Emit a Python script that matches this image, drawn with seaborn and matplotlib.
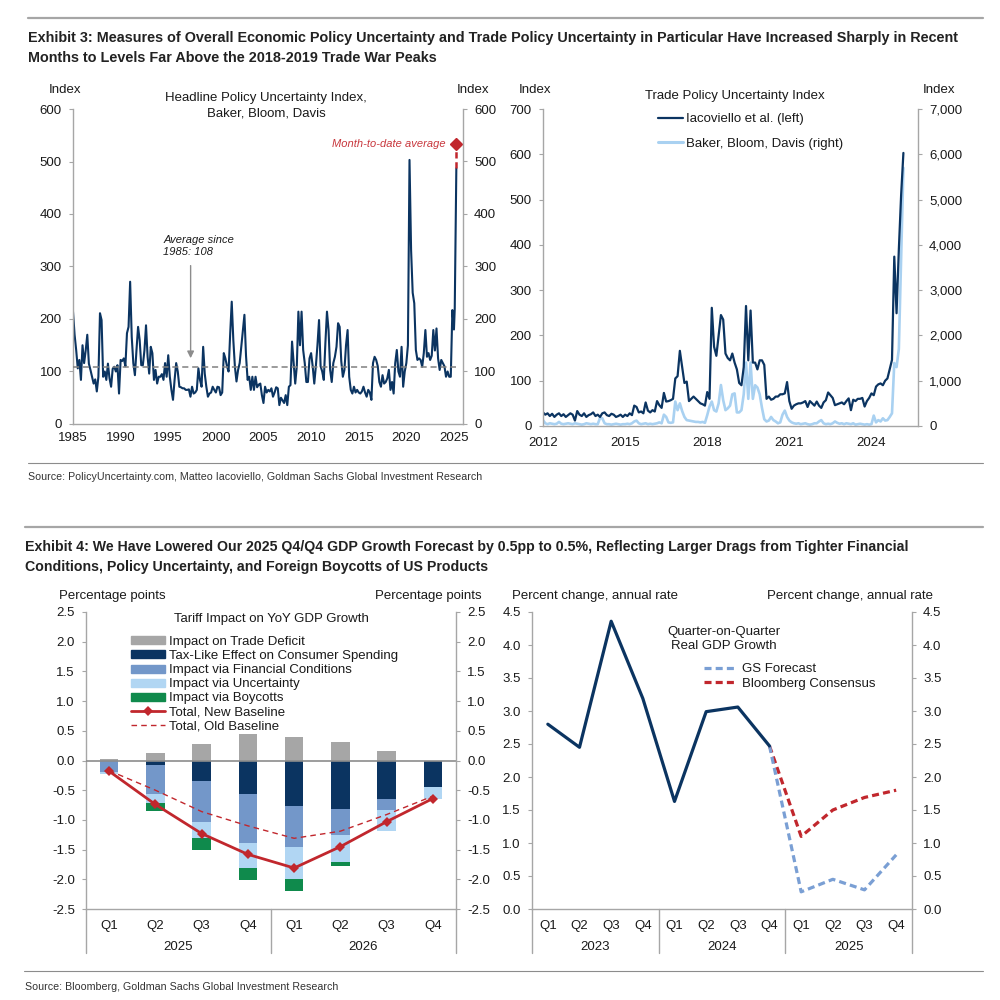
import numpy as np
import matplotlib
matplotlib.use("Agg")
import matplotlib.pyplot as plt
import seaborn as sns
from matplotlib.patches import Patch
from matplotlib.lines import Line2D
from matplotlib.ticker import FuncFormatter

# ---------------- data ----------------
# Exhibit 3 left: headline EPU index, one reading every two months (Jan, Mar, ... Nov), 1985-2024
EPU_BIMONTHLY = [
    214, 170, 141, 106, 122, 84,    # 1985
    150, 116, 140, 170, 115, 103,   # 1986
    90, 77, 85, 62, 90, 211,        # 1987
    198, 90, 100, 84, 115, 87,      # 1988
    71, 105, 109, 100, 112, 58,     # 1989
    122, 120, 125, 110, 173, 185,   # 1990
    271, 166, 116, 93, 141, 185,    # 1991
    160, 112, 112, 140, 188, 128,   # 1992
    96, 147, 135, 84, 103, 77,      # 1993
    90, 90, 95, 84, 116, 90,        # 1994
    131, 90, 65, 46, 84, 116,       # 1995
    100, 71, 70, 68, 68, 65,        # 1996
    65, 66, 52, 71, 58, 60,         # 1997
    65, 106, 84, 71, 147, 96,       # 1998
    71, 52, 58, 60, 71, 65,         # 1999
    60, 71, 70, 55, 60, 135,        # 2000
    125, 110, 100, 170, 233, 160,   # 2001
    109, 81, 103, 116, 147, 179,    # 2002
    208, 130, 84, 90, 65, 90,       # 2003
    65, 90, 70, 75, 77, 55,         # 2004
    40, 71, 60, 65, 62, 68,         # 2005
    52, 60, 70, 68, 36, 50,         # 2006
    45, 40, 55, 36, 71, 74,         # 2007
    157, 116, 77, 110, 214, 150,    # 2008
    214, 141, 116, 80, 80, 125,     # 2009
    135, 110, 77, 110, 150, 198,    # 2010
    110, 100, 84, 154, 214, 179,    # 2011
    103, 80, 116, 128, 147, 192,    # 2012
    185, 120, 90, 103, 150, 179,    # 2013
    90, 65, 58, 71, 60, 65,         # 2014
    60, 58, 62, 71, 60, 52,         # 2015
    65, 60, 46, 116, 128, 122,      # 2016
    110, 80, 71, 93, 77, 80,        # 2017
    87, 103, 65, 80, 58, 116,       # 2018
    141, 100, 90, 147, 71, 100,     # 2019
    116, 150, 503, 331, 250, 230,   # 2020
    141, 122, 125, 122, 109, 135,   # 2021
    179, 128, 135, 122, 130, 179,   # 2022
    140, 182, 125, 103, 122, 116,   # 2023
    110, 90, 100, 90, 90, 217,      # 2024
]
EPU_2025_MONTHLY = [180, 220, 350, 487]   # Jan-Apr 2025
EPU_MTD = 533
EPU_AVERAGE = 108

# Exhibit 3 right: trade policy uncertainty, monthly from Jan 2012
TPU_IACOVIELLO = [
    30, 25, 28, 22, 27, 20, 25, 28, 22, 26, 20, 24,
    28, 25, 12, 33, 25, 22, 28, 20, 24, 26, 30, 22,
    25, 20, 28, 30, 24, 22, 27, 25, 20, 22, 25, 20,
    25, 22, 28, 24, 45, 42, 30, 32, 28, 52, 34, 30,
    35, 32, 55, 46, 40, 73, 54, 55, 57, 60, 105, 110,
    166, 130, 95, 98, 55, 60, 65, 60, 55, 50, 48, 45,
    75, 60, 261, 175, 155, 200, 245, 235, 160, 150, 145, 160,
    140, 125, 95, 90, 130, 265, 145, 255, 140, 140, 125, 145,
    145, 135, 60, 65, 58, 60, 65, 65, 70, 70, 72, 97,
    55, 38, 45, 48, 50, 50, 52, 55, 42, 55, 50, 45,
    54, 45, 40, 52, 57, 74, 68, 62, 46, 48, 50, 52,
    48, 55, 61, 35, 58, 55, 60, 60, 62, 43, 55, 62,
    72, 68, 87, 92, 94, 90, 100, 105, 125, 146, 374, 249,
    390, 510, 603,
]
TPU_BBD = [
    130, 60, 40, 60, 50, 40, 50, 90, 50, 40, 50, 60,
    50, 40, 60, 50, 40, 30, 40, 60, 50, 40, 50, 40,
    40, 180, 170, 60, 40, 40, 30, 40, 50, 40, 30, 40,
    40, 50, 40, 60, 100, 120, 60, 40, 50, 60, 40, 50,
    40, 50, 60, 80, 60, 250, 200, 80, 70, 80, 540, 350,
    500, 330, 200, 130, 120, 110, 100, 90, 90, 80, 90, 70,
    240, 430, 540, 350, 320, 500, 905, 570, 350, 390, 450, 700,
    720, 300, 300, 350, 700, 1400, 600, 1400, 600, 900, 850, 700,
    400, 150, 100, 120, 200, 130, 100, 60, 80, 250, 340, 200,
    120, 80, 60, 50, 60, 40, 50, 60, 40, 30, 40, 60,
    60, 100, 130, 60, 40, 50, 40, 60, 100, 70, 50, 60,
    40, 60, 50, 40, 60, 30, 40, 50, 40, 30, 40, 30,
    40, 230, 80, 130, 100, 170, 120, 130, 200, 280, 1390, 1300,
    1700, 3700, 5700,
]

# Exhibit 4 left: tariff impact on YoY GDP growth, Q1 2025 - Q4 2026 (pp)
TARIFF_QUARTERS = ["Q1", "Q2", "Q3", "Q4", "Q1", "Q2", "Q3", "Q4"]
TARIFF_YEARS = ["2025", "2026"]
TRADE_DEFICIT = np.array([0.03, 0.12, 0.28, 0.44, 0.40, 0.31, 0.16, 0.00])
TAX_LIKE = np.array([0.00, -0.08, -0.34, -0.56, -0.76, -0.81, -0.64, -0.44])
FIN_CONDITIONS = np.array([-0.19, -0.48, -0.69, -0.83, -0.70, -0.44, -0.20, 0.00])
UNCERTAINTY = np.array([-0.03, -0.15, -0.27, -0.42, -0.53, -0.46, -0.34, -0.20])
BOYCOTTS = np.array([0.00, -0.14, -0.21, -0.21, -0.21, -0.07, 0.00, 0.00])
TOTAL_NEW = [-0.18, -0.74, -1.23, -1.58, -1.81, -1.45, -1.03, -0.64]
TOTAL_OLD = [-0.17, -0.50, -0.86, -1.10, -1.31, -1.19, -0.91, -0.60]

# Exhibit 4 right: QoQ real GDP growth, Q1 2023 - Q4 2025
GDP_QUARTERS = ["Q1", "Q2", "Q3", "Q4"] * 3
GDP_YEARS = ["2023", "2024", "2025"]
GDP_ACTUAL = [2.80, 2.45, 4.36, 3.19, 1.63, 2.99, 3.06, 2.47]          # Q1 2023 - Q4 2024
GS_FORECAST = [2.47, 0.26, 0.45, 0.29, 0.82]                            # Q4 2024 - Q4 2025
BBG_CONSENSUS = [2.47, 1.10, 1.50, 1.69, 1.80]                          # Q4 2024 - Q4 2025

# ---------------- style ----------------
NAVY = "#0b3461"
LIGHT = "#a9d1f1"
RED = "#c1272d"
AXIS = "#a6a6a6"
TEXT = "#1a1a1a"
BAR_GRAY = "#a6a6a6"
BAR_MID = "#7397c9"
BAR_LIGHT = "#b1d6f3"
BAR_GREEN = "#0f8a4c"
GS_BLUE = "#7a9fd4"

sns.set_theme(style="white")
plt.rcParams["font.family"] = ["Liberation Sans", "DejaVu Sans"]
plt.rcParams["font.size"] = 9.5
plt.rcParams["axes.unicode_minus"] = False
plt.rcParams["text.color"] = TEXT

fig = plt.figure(figsize=(10, 10), dpi=100)
renderer = fig.canvas.get_renderer()


def box(l, t, r, b):
    return [l / 1000, 1 - b / 1000, (r - l) / 1000, (b - t) / 1000]


def ftext(x, y, s, **kw):
    kw.setdefault("va", "center")
    return fig.text(x / 1000, 1 - y / 1000, s, **kw)


def fit_size(s, width_px, **kw):
    # font size that makes s span width_px pixels
    t = fig.text(0, 0, s, fontsize=10, **kw)
    w = t.get_window_extent(renderer).width
    t.remove()
    return 10 * width_px / w


def fline(y, x0, x1, lw, color):
    fig.add_artist(Line2D([x0 / 1000, x1 / 1000], [1 - y / 1000] * 2, lw=lw, color=color))


def style(ax, right=False):
    for sp in ax.spines.values():
        sp.set_color(AXIS)
        sp.set_linewidth(1.0)
    ax.spines["top"].set_visible(False)
    if right:
        ax.spines["left"].set_visible(False)
        ax.spines["bottom"].set_visible(False)
    else:
        ax.spines["right"].set_visible(False)
    ax.tick_params(axis="y", which="both", direction="out", length=3, width=0.8,
                   color=AXIS, pad=5, labelsize=9.5, labelcolor=TEXT)
    ax.grid(False)
    ax.set_xlabel("")
    ax.set_ylabel("")


def quarter_axis(ax, labels, years, height_px):
    n = len(labels)
    ax.set_xlim(-0.5, n - 0.5)
    ax.set_xticks(np.arange(n))
    ax.set_xticklabels(labels)
    ax.tick_params(axis="x", which="major", length=0, pad=8, labelsize=9.5, labelcolor=TEXT)
    ax.set_xticks(np.arange(n + 1) - 0.5, minor=True)
    ax.tick_params(axis="x", which="minor", length=17, width=1, color=AXIS, direction="out")
    tr = ax.get_xaxis_transform()
    for i, yr in enumerate(years):
        ax.text(i * 4 + 1.5, -38 / height_px, yr, transform=tr, ha="center", va="center",
                fontsize=9.5)
    for xs in np.arange(0, n + 1, 4) - 0.5:
        ax.plot([xs, xs], [0, -44 / height_px], transform=tr, color=AXIS, lw=1, clip_on=False)


# ---------------- headers ----------------
T3A = ("Exhibit 3: Measures of Overall Economic Policy Uncertainty and Trade Policy "
       "Uncertainty in Particular Have Increased Sharply in Recent")
T3B = "Months to Levels Far Above the 2018-2019 Trade War Peaks"
T4A = ("Exhibit 4: We Have Lowered Our 2025 Q4/Q4 GDP Growth Forecast by 0.5pp to 0.5%, "
       "Reflecting Larger Drags from Tighter Financial")
T4B = "Conditions, Policy Uncertainty, and Foreign Boycotts of US Products"
S3 = ("Source: PolicyUncertainty.com, Matteo Iacoviello, Goldman Sachs Global "
      "Investment Research")
S4 = "Source: Bloomberg, Goldman Sachs Global Investment Research"

fs3 = fit_size(T3A, 933, fontweight="bold")
fs4 = fit_size(T4A, 882, fontweight="bold")
fss = fit_size(S3, 448)

fline(18, 28, 983, 1.6, "#a6a6a6")
ftext(28, 38, T3A, fontweight="bold", fontsize=fs3, color="#222222")
ftext(28, 58, T3B, fontweight="bold", fontsize=fs3, color="#222222")
fline(463, 28, 983, 0.8, "#8c8c8c")
ftext(28, 477, S3, fontsize=fss, color="#333333")

fline(527, 25, 983, 1.6, "#a6a6a6")
ftext(25, 547, T4A, fontweight="bold", fontsize=fs4, color="#222222")
ftext(25, 567, T4B, fontweight="bold", fontsize=fs4, color="#222222")
fline(971, 24, 983, 0.8, "#8c8c8c")
ftext(25, 987, S4, fontsize=fss, color="#333333")

# ---------------- Exhibit 3 left ----------------
ax1 = fig.add_axes(box(73, 109, 463, 424))
epu_x = np.concatenate([1985 + np.arange(len(EPU_BIMONTHLY)) / 6,
                        2025 + np.arange(len(EPU_2025_MONTHLY)) / 12])
epu_y = np.array(EPU_BIMONTHLY + EPU_2025_MONTHLY, dtype=float)
sns.lineplot(x=epu_x, y=epu_y, ax=ax1, color=NAVY, lw=1.5)
ax1.hlines(EPU_AVERAGE, epu_x[0], epu_x[-1], colors="#808080", linestyles=(0, (4, 2.5)),
           lw=1.1, zorder=3)
ax1.plot([epu_x[-1], epu_x[-1]], [epu_y[-1], EPU_MTD], ls=(0, (2.5, 1.5)), color=RED, lw=1.8)
ax1.plot([epu_x[-1]], [EPU_MTD], marker="D", ms=6, color=RED, ls="none", clip_on=False)
ax1.set_xlim(1985, 2025.95)
ax1.set_ylim(0, 600)
ax1.set_yticks(range(0, 601, 100))
ax1.set_xticks(range(1985, 2026, 5))
style(ax1)
ax1.tick_params(axis="x", direction="out", length=4, width=0.8, color=AXIS, pad=2,
                labelsize=9.5, labelcolor=TEXT)
ax1.annotate("", xy=(1997.35, 120), xytext=(1997.35, 307),
             arrowprops=dict(arrowstyle="-|>", color="#8c8c8c", lw=1.0, mutation_scale=10))
ax1.text(1994.5, 351, "Average since", style="italic", fontsize=8, va="center")
ax1.text(1994.5, 327, "1985: 108", style="italic", fontsize=8, va="center")
ax1.text(2024.1, EPU_MTD, "Month-to-date average", style="italic", fontsize=8,
         color="#c8373d", ha="right", va="center")
ax1r = ax1.twinx()
ax1r.set_ylim(0, 600)
ax1r.set_yticks(range(0, 601, 100))
style(ax1r, right=True)
ftext(49, 90, "Index")
ftext(457, 90, "Index")
ftext(266, 98, "Headline Policy Uncertainty Index,", ha="center")
ftext(266, 113, "Baker, Bloom, Davis", ha="center")

# ---------------- Exhibit 3 right ----------------
ax2 = fig.add_axes(box(543, 109, 918, 426))
ax2r = ax2.twinx()
tpu_x = 2012 + np.arange(len(TPU_IACOVIELLO)) / 12
sns.lineplot(x=tpu_x, y=TPU_BBD, ax=ax2r, color=LIGHT, lw=1.9)
sns.lineplot(x=tpu_x, y=TPU_IACOVIELLO, ax=ax2, color=NAVY, lw=1.6)
ax2.set_zorder(ax2r.get_zorder() + 1)
ax2.patch.set_visible(False)
ax2.set_xlim(2012, 2025.7)
ax2.set_ylim(0, 700)
ax2r.set_ylim(0, 7000)
ax2.set_yticks(range(0, 701, 100))
ax2r.set_yticks(range(0, 7001, 1000))
ax2r.yaxis.set_major_formatter(FuncFormatter(lambda v, p: f"{v:,.0f}"))
ax2.set_xticks([2012, 2015, 2018, 2021, 2024])
style(ax2)
style(ax2r, right=True)
ax2.tick_params(axis="x", direction="out", length=4, width=0.8, color=AXIS, pad=4,
                labelsize=9.5, labelcolor=TEXT)
ftext(519, 90, "Index")
ftext(923, 90, "Index")
ftext(735, 96, "Trade Policy Uncertainty Index", ha="center")
fig.legend([Line2D([], [], color=NAVY, lw=1.6), Line2D([], [], color=LIGHT, lw=2.2)],
           ["Iacoviello et al. (left)", "Baker, Bloom, Davis (right)"],
           loc="upper left", bbox_to_anchor=(0.658, 1 - 0.113), frameon=False,
           borderpad=0, borderaxespad=0, handlelength=1.9, handletextpad=0.25,
           labelspacing=0.95, fontsize=9.5)

# ---------------- Exhibit 4 left ----------------
ax3 = fig.add_axes(box(86, 612, 456, 909))
q = np.arange(len(TARIFF_QUARTERS))
base = np.zeros(len(q))
for vals, col in [(TAX_LIKE, NAVY), (FIN_CONDITIONS, BAR_MID), (UNCERTAINTY, BAR_LIGHT),
                  (BOYCOTTS, BAR_GREEN)]:
    ax3.bar(q, vals, bottom=base, width=0.4, color=col, lw=0, zorder=2)
    base = base + vals
ax3.bar(q, TRADE_DEFICIT, width=0.4, color=BAR_GRAY, lw=0, zorder=2)
ax3.axhline(0, color="#8c8c8c", lw=1.2, zorder=3)
sns.lineplot(x=q, y=TOTAL_OLD, ax=ax3, color=RED, lw=1.0, linestyle=(0, (4, 3)), zorder=4)
sns.lineplot(x=q, y=TOTAL_NEW, ax=ax3, color=RED, lw=2.0, marker="D", markersize=5.5,
             markeredgewidth=0, zorder=5)
ax3.set_ylim(-2.5, 2.5)
yt = np.arange(-2.5, 2.51, 0.5)
ax3.set_yticks(yt)
ax3.yaxis.set_major_formatter(FuncFormatter(lambda v, p: f"{v:.1f}"))
style(ax3)
quarter_axis(ax3, TARIFF_QUARTERS, TARIFF_YEARS, 297)
ax3r = ax3.twinx()
ax3r.set_ylim(-2.5, 2.5)
ax3r.set_yticks(yt)
ax3r.yaxis.set_major_formatter(FuncFormatter(lambda v, p: f"{v:.1f}"))
style(ax3r, right=True)
ftext(59, 596, "Percentage points")
ftext(482, 596, "Percentage points", ha="right")
ftext(271, 619, "Tariff Impact on YoY GDP Growth", ha="center")
leg_handles = [Patch(color=BAR_GRAY), Patch(color=NAVY), Patch(color=BAR_MID),
               Patch(color=BAR_LIGHT), Patch(color=BAR_GREEN),
               Line2D([], [], color=RED, lw=2.0, marker="D", ms=5.5, mew=0),
               Line2D([], [], color=RED, lw=1.0, ls=(0, (4, 3)))]
leg_labels = ["Impact on Trade Deficit", "Tax-Like Effect on Consumer Spending",
              "Impact via Financial Conditions", "Impact via Uncertainty",
              "Impact via Boycotts", "Total, New Baseline", "Total, Old Baseline"]
fig.legend(leg_handles, leg_labels, loc="upper left", bbox_to_anchor=(0.131, 1 - 0.636),
           frameon=False, borderpad=0, borderaxespad=0, handlelength=2.6, handleheight=0.55,
           handletextpad=0.25, labelspacing=0.16, fontsize=9.5)

# ---------------- Exhibit 4 right ----------------
ax4 = fig.add_axes(box(532, 612, 912, 909))
gq = np.arange(len(GDP_QUARTERS))
sns.lineplot(x=gq[7:], y=BBG_CONSENSUS, ax=ax4, color=RED, lw=2.3, linestyle=(0, (2.2, 1.3)))
sns.lineplot(x=gq[7:], y=GS_FORECAST, ax=ax4, color=GS_BLUE, lw=2.3, linestyle=(0, (2.2, 1.3)))
sns.lineplot(x=gq[:8], y=GDP_ACTUAL, ax=ax4, color=NAVY, lw=2.3)
ax4.set_ylim(0, 4.5)
yt4 = np.arange(0, 4.51, 0.5)
ax4.set_yticks(yt4)
ax4.yaxis.set_major_formatter(FuncFormatter(lambda v, p: f"{v:.1f}"))
style(ax4)
quarter_axis(ax4, GDP_QUARTERS, GDP_YEARS, 297)
ax4r = ax4.twinx()
ax4r.set_ylim(0, 4.5)
ax4r.set_yticks(yt4)
ax4r.yaxis.set_major_formatter(FuncFormatter(lambda v, p: f"{v:.1f}"))
style(ax4r, right=True)
ftext(512, 596, "Percent change, annual rate")
ftext(933, 596, "Percent change, annual rate", ha="right")
ftext(724, 632, "Quarter-on-Quarter", ha="center")
ftext(724, 646, "Real GDP Growth", ha="center")
fig.legend([Line2D([], [], color=GS_BLUE, lw=2.3, ls=(0, (2.2, 1.3))),
            Line2D([], [], color=RED, lw=2.3, ls=(0, (2.2, 1.3)))],
           ["GS Forecast", "Bloomberg Consensus"], loc="upper left",
           bbox_to_anchor=(0.704, 1 - 0.663), frameon=False, borderpad=0, borderaxespad=0,
           handlelength=2.35, handletextpad=0.5, labelspacing=0.2, fontsize=9.5)

fig.savefig("out.png", dpi=100)
